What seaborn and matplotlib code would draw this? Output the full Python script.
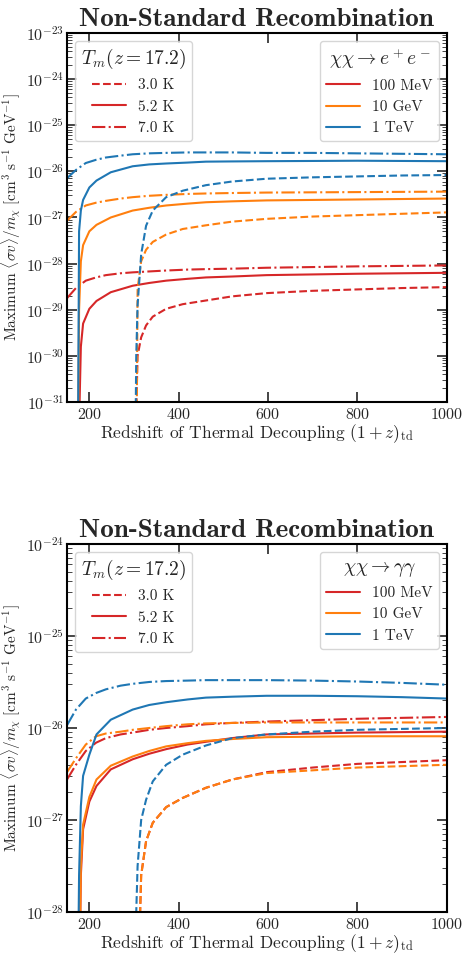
import numpy as np
import matplotlib
matplotlib.use('Agg')
import matplotlib.pyplot as plt
from matplotlib.lines import Line2D
from matplotlib.ticker import LogLocator
import seaborn as sns

# redshift grids (1+z)_td for each Tm(z=17.2) curve family
x_dashdot = [150, 170, 192, 215, 237, 270, 297, 334, 372, 420, 461, 520, 597, 700, 800, 900, 1000]  # 7.0 K
x_solid = [174, 177, 181, 186, 200, 216, 248, 297, 334, 372, 420, 461, 520, 597, 700, 800, 900, 1000]  # 5.2 K
x_dashed = [302, 305, 308, 316, 327, 342, 372, 409, 461, 520, 597, 700, 800, 900, 1000]  # 3.0 K

# log10 of maximum <sigma v>/m_chi, chi chi -> e+ e-
ee_tev_7 = [-26.15, -25.97, -25.82, -25.75, -25.70, -25.66, -25.63, -25.61, -25.60, -25.59, -25.59, -25.59, -25.60, -25.60, -25.61, -25.62, -25.63]
ee_gev_7 = [-27.07, -26.88, -26.74, -26.68, -26.64, -26.59, -26.56, -26.53, -26.51, -26.49, -26.48, -26.47, -26.46, -26.455, -26.45, -26.445, -26.44]
ee_mev_7 = [-28.75, -28.53, -28.37, -28.30, -28.25, -28.21, -28.19, -28.17, -28.15, -28.13, -28.12, -28.11, -28.09, -28.075, -28.06, -28.05, -28.04]
ee_tev_52 = [-33, -27.3, -26.85, -26.62, -26.35, -26.2, -26.02, -25.89, -25.85, -25.83, -25.81, -25.79, -25.785, -25.78, -25.775, -25.77, -25.775, -25.78]
ee_gev_52 = [-33, -29.0, -27.95, -27.6, -27.3, -27.16, -27.0, -26.85, -26.79, -26.74, -26.70, -26.67, -26.65, -26.63, -26.62, -26.61, -26.60, -26.59]
ee_mev_52 = [-33, -31.5, -29.8, -29.3, -28.98, -28.81, -28.62, -28.48, -28.42, -28.37, -28.33, -28.30, -28.28, -28.25, -28.235, -28.22, -28.21, -28.20]
ee_tev_3 = [-33, -30.0, -28.9, -27.8, -27.18, -26.85, -26.56, -26.42, -26.30, -26.22, -26.16, -26.13, -26.11, -26.09, -26.08]
ee_gev_3 = [-33, -33, -28.55, -27.95, -27.7, -27.53, -27.37, -27.25, -27.17, -27.09, -27.03, -26.98, -26.95, -26.92, -26.89]
ee_mev_3 = [-33, -31.2, -30.0, -29.6, -29.34, -29.15, -28.98, -28.88, -28.80, -28.71, -28.64, -28.59, -28.56, -28.53, -28.51]

# log10 of maximum <sigma v>/m_chi, chi chi -> gamma gamma
gg_tev_7 = [-25.97, -25.80, -25.68, -25.62, -25.58, -25.54, -25.52, -25.50, -25.49, -25.485, -25.48, -25.48, -25.48, -25.485, -25.495, -25.51, -25.53]
gg_gev_7 = [-26.48, -26.33, -26.18, -26.09, -26.06, -26.04, -26.02, -26.00, -25.98, -25.96, -25.95, -25.945, -25.94, -25.94, -25.94, -25.94, -25.94]
gg_mev_7 = [-26.56, -26.40, -26.25, -26.16, -26.11, -26.07, -26.05, -26.02, -26.00, -25.98, -25.96, -25.945, -25.93, -25.915, -25.90, -25.89, -25.88]
gg_tev_52 = [-29, -27.6, -26.85, -26.52, -26.29, -26.07, -25.91, -25.80, -25.75, -25.72, -25.69, -25.67, -25.66, -25.65, -25.65, -25.655, -25.665, -25.68]
gg_gev_52 = [-29, -29, -27.5, -27.05, -26.75, -26.56, -26.41, -26.31, -26.25, -26.20, -26.165, -26.14, -26.12, -26.10, -26.095, -26.09, -26.09, -26.09]
gg_mev_52 = [-29, -29, -27.6, -27.1, -26.80, -26.63, -26.45, -26.34, -26.28, -26.23, -26.18, -26.15, -26.11, -26.07, -26.06, -26.05, -26.045, -26.04]
gg_tev_3 = [-29, -28.0, -27.5, -27.0, -26.78, -26.58, -26.40, -26.29, -26.19, -26.11, -26.07, -26.04, -26.02, -26.01, -26.0]
gg_gev_3 = [-29, -29, -29, -27.6, -27.23, -27.03, -26.86, -26.76, -26.65, -26.56, -26.49, -26.46, -26.43, -26.415, -26.40]
gg_mev_3 = [-29, -29, -29, -27.6, -27.23, -27.03, -26.86, -26.76, -26.65, -26.56, -26.48, -26.43, -26.39, -26.37, -26.35]

masses = ['100 MeV', '10 GeV', '1 TeV']
temps = ['3.0 K', '5.2 K', '7.0 K']
colors = ['#d62728', '#ff7f0e', '#1f77b4']
styles = ['--', '-', '-.']

sns.set_style('ticks')
plt.rcParams.update({
    'font.family': 'serif',
    'font.serif': ['cmr10'],
    'mathtext.fontset': 'cm',
    'axes.formatter.use_mathtext': True,
    'xtick.direction': 'in',
    'ytick.direction': 'in',
    'xtick.top': True,
    'ytick.right': True,
    'xtick.major.size': 7,
    'ytick.major.size': 7,
    'ytick.minor.size': 3.5,
    'xtick.major.width': 1.2,
    'ytick.major.width': 1.2,
    'axes.linewidth': 1.5,
    'axes.edgecolor': 'black',
})

fig = plt.figure(figsize=(4.67, 9.58), dpi=100)
ax1 = fig.add_axes([0.1435, 0.5804, 0.813, 0.3852])
ax2 = fig.add_axes([0.1435, 0.048, 0.813, 0.3842])

panels = [
    (ax1, r'$\chi\chi \to e^+e^-$', (-31, -23),
     [[ee_mev_3, ee_mev_52, ee_mev_7], [ee_gev_3, ee_gev_52, ee_gev_7], [ee_tev_3, ee_tev_52, ee_tev_7]]),
    (ax2, r'$\chi\chi \to \gamma\gamma$', (-28, -24),
     [[gg_mev_3, gg_mev_52, gg_mev_7], [gg_gev_3, gg_gev_52, gg_gev_7], [gg_tev_3, gg_tev_52, gg_tev_7]]),
]
xgrids = [x_dashed, x_solid, x_dashdot]

for ax, chan, (lo, hi), series in panels:
    for c, col in enumerate(colors):
        for t, ls in enumerate(styles):
            sns.lineplot(x=xgrids[t], y=10.0 ** np.array(series[c][t]), ax=ax,
                         color=col, linestyle=ls, linewidth=1.5, legend=False)
    ax.set_yscale('log')
    ax.set_xlim(150, 1000)
    ax.set_ylim(10.0 ** lo, 10.0 ** hi)
    ax.set_yticks([10.0 ** e for e in range(lo, hi + 1)])
    ax.yaxis.set_minor_locator(LogLocator(base=10, subs=np.arange(2, 10), numticks=50))
    ax.set_xticks([200, 400, 600, 800, 1000])
    ax.tick_params(labelsize=11.5)
    ax.tick_params(axis='y', pad=2)
    ax.set_title('Non-Standard Recombination', fontsize=19.5, fontfamily='cmb10', pad=5)
    ax.set_xlabel(r'Redshift of Thermal Decoupling $(1+z)_{\rm td}$', fontsize=12.5, labelpad=0)
    ax.set_ylabel(r'Maximum $\langle\sigma v\rangle/m_\chi\ [\mathrm{cm}^3\ \mathrm{s}^{-1}\ \mathrm{GeV}^{-1}]$',
                  fontsize=11, labelpad=2)

    h1 = [Line2D([], [], color=colors[0], linestyle=ls, lw=1.5) for ls in styles]
    leg1 = ax.legend(h1, temps, title=r'$T_m(z=17.2)$', loc='upper left', fontsize=11,
                     title_fontsize=14, handlelength=2.2, borderaxespad=0.5)
    ax.add_artist(leg1)
    h2 = [Line2D([], [], color=col, linestyle='-', lw=1.5) for col in colors]
    ax.legend(h2, masses, title=chan, loc='upper right', fontsize=11,
              title_fontsize=14, handlelength=2.2, borderaxespad=0.5)

fig.savefig('out.png', dpi=100)
